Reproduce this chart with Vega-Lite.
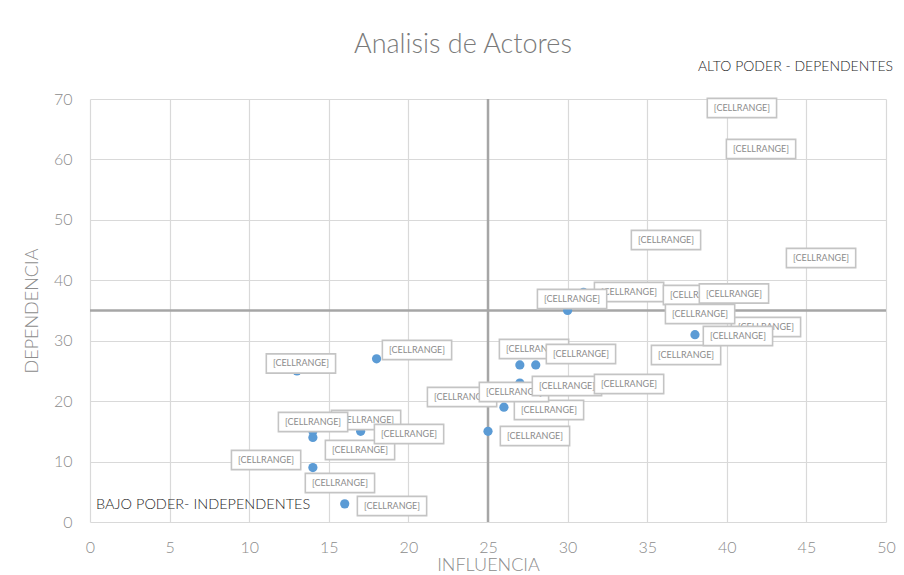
{
  "$schema": "https://vega.github.io/schema/vega-lite/v6.json",
  "width": 796,
  "height": 423,
  "autosize": "none",
  "padding": {"left": 90, "top": 99, "right": 18, "bottom": 53},
  "background": "white",
  "config": {"view": {"stroke": null}, "font": "Lato"},
  "title": {
    "text": "Analisis de Actores",
    "fontSize": 27,
    "fontWeight": 300,
    "color": "#7a7a7a",
    "anchor": "middle",
    "dx": -25,
    "offset": 1
  },
  "datasets": {
    "points": [
      {"influencia": 13, "dependencia": 25},
      {"influencia": 18, "dependencia": 27},
      {"influencia": 14, "dependencia": 15},
      {"influencia": 14, "dependencia": 14},
      {"influencia": 14, "dependencia": 9},
      {"influencia": 16, "dependencia": 3},
      {"influencia": 17, "dependencia": 15},
      {"influencia": 23, "dependencia": 20},
      {"influencia": 25, "dependencia": 15},
      {"influencia": 26, "dependencia": 19},
      {"influencia": 27, "dependencia": 26},
      {"influencia": 28, "dependencia": 26},
      {"influencia": 27, "dependencia": 23},
      {"influencia": 30, "dependencia": 35},
      {"influencia": 31, "dependencia": 38},
      {"influencia": 38, "dependencia": 31}
    ],
    "thresholds": [
      {"influencia": 25, "dependencia": 35}
    ],
    "labels": [
      {"id": 1, "x": 13.25, "y": 26.23, "t": "[CELLRANGE]"},
      {"id": 2, "x": 20.54, "y": 28.46, "t": "[CELLRANGE]"},
      {"id": 3, "x": 23.37, "y": 20.69, "t": "[CELLRANGE]"},
      {"id": 4, "x": 26.63, "y": 21.51, "t": "[CELLRANGE]"},
      {"id": 5, "x": 17.34, "y": 16.88, "t": "[CELLRANGE]"},
      {"id": 6, "x": 14.01, "y": 16.55, "t": "[CELLRANGE]"},
      {"id": 7, "x": 20.04, "y": 14.56, "t": "[CELLRANGE]"},
      {"id": 8, "x": 16.96, "y": 11.91, "t": "[CELLRANGE]"},
      {"id": 9, "x": 11.06, "y": 10.26, "t": "[CELLRANGE]"},
      {"id": 10, "x": 15.7, "y": 6.45, "t": "[CELLRANGE]"},
      {"id": 11, "x": 18.97, "y": 2.65, "t": "[CELLRANGE]"},
      {"id": 12, "x": 40.95, "y": 68.51, "t": "[CELLRANGE]"},
      {"id": 13, "x": 42.15, "y": 61.72, "t": "[CELLRANGE]"},
      {"id": 14, "x": 36.18, "y": 46.67, "t": "[CELLRANGE]"},
      {"id": 15, "x": 45.92, "y": 43.69, "t": "[CELLRANGE]"},
      {"id": 16, "x": 33.86, "y": 38.06, "t": "[CELLRANGE]"},
      {"id": 17, "x": 30.28, "y": 36.9, "t": "[CELLRANGE]"},
      {"id": 18, "x": 38.19, "y": 37.56, "t": "[CELLRANGE]"},
      {"id": 19, "x": 40.45, "y": 37.81, "t": "[CELLRANGE]"},
      {"id": 20, "x": 38.32, "y": 34.42, "t": "[CELLRANGE]"},
      {"id": 21, "x": 42.46, "y": 32.27, "t": "[CELLRANGE]"},
      {"id": 22, "x": 40.7, "y": 30.78, "t": "[CELLRANGE]"},
      {"id": 23, "x": 37.44, "y": 27.64, "t": "[CELLRANGE]"},
      {"id": 24, "x": 27.89, "y": 28.63, "t": "[CELLRANGE]"},
      {"id": 25, "x": 30.84, "y": 27.8, "t": "[CELLRANGE]"},
      {"id": 26, "x": 29.96, "y": 22.51, "t": "[CELLRANGE]"},
      {"id": 27, "x": 33.86, "y": 22.84, "t": "[CELLRANGE]"},
      {"id": 28, "x": 28.83, "y": 18.53, "t": "[CELLRANGE]"},
      {"id": 29, "x": 27.95, "y": 14.23, "t": "[CELLRANGE]"}
    ],
    "notes": [
      {"x": 50.44, "y": 75.3, "t": "ALTO PODER - DEPENDENTES", "side": "right"},
      {"x": 0.38, "y": 2.8, "t": "BAJO PODER- INDEPENDENTES", "side": "left"}
    ]
  },
  "layer": [
    {
      "data": {"name": "points"},
      "mark": {"type": "rule", "opacity": 0},
      "encoding": {
        "x": {
          "field": "influencia",
          "type": "quantitative",
          "scale": {"domain": [0, 50], "nice": false, "zero": false},
          "axis": {
            "title": "INFLUENCIA",
            "values": [0, 5, 10, 15, 20, 25, 30, 35, 40, 45, 50],
            "grid": true,
            "gridColor": "#d9d9d9",
            "gridWidth": 1.2,
            "domain": false,
            "ticks": false,
            "labelFlush": false,
            "labelOverlap": false,
            "labelColor": "#8c8c8c",
            "labelFontSize": 16,
            "labelFontWeight": 300,
            "labelPadding": 17,
            "titleColor": "#8c8c8c",
            "titleFontSize": 18,
            "titleFontWeight": 300,
            "titlePadding": 1
          }
        },
        "y": {
          "field": "dependencia",
          "type": "quantitative",
          "scale": {"domain": [0, 70], "nice": false, "zero": false},
          "axis": {
            "title": "DEPENDENCIA",
            "values": [0, 10, 20, 30, 40, 50, 60, 70],
            "grid": true,
            "gridColor": "#d9d9d9",
            "gridWidth": 1.2,
            "domain": false,
            "ticks": false,
            "labelFlush": false,
            "labelColor": "#8c8c8c",
            "labelFontSize": 16,
            "labelFontWeight": 300,
            "labelPadding": 18,
            "titleColor": "#8c8c8c",
            "titleFontSize": 18,
            "titleFontWeight": 300,
            "titlePadding": 12
          }
        }
      }
    },
    {
      "data": {"name": "thresholds"},
      "mark": {"type": "rule", "color": "#a6a6a6", "strokeWidth": 2.5},
      "encoding": {"x": {"field": "influencia", "type": "quantitative"}}
    },
    {
      "data": {"name": "thresholds"},
      "mark": {"type": "rule", "color": "#a6a6a6", "strokeWidth": 2.5},
      "encoding": {"y": {"field": "dependencia", "type": "quantitative"}}
    },
    {
      "data": {"name": "points"},
      "mark": {"type": "point", "filled": true, "color": "#5b9bd5", "opacity": 1, "size": 85},
      "encoding": {
        "x": {"field": "influencia", "type": "quantitative"},
        "y": {"field": "dependencia", "type": "quantitative"}
      }
    },
    {
      "data": {"name": "labels"},
      "transform": [{"filter": {"not": {"field": "id", "oneOf": [4, 6, 7, 25, 17, 19, 20, 22, 26, 27]}}}],
      "layer": [
        {
          "mark": {"type": "point", "shape": "M-1,-0.278H1V0.278H-1Z", "size": 4800, "filled": true, "fill": "white", "fillOpacity": 1, "stroke": "#c4c4c4", "strokeWidth": 1.6, "opacity": 1},
          "encoding": {"x": {"field": "x", "type": "quantitative"}, "y": {"field": "y", "type": "quantitative"}}
        },
        {
          "mark": {"type": "text", "fontSize": 9, "color": "#8c8c8c", "align": "center", "baseline": "middle"},
          "encoding": {"x": {"field": "x", "type": "quantitative"}, "y": {"field": "y", "type": "quantitative"}, "text": {"field": "t"}}
        }
      ]
    },
    {
      "data": {"name": "labels"},
      "transform": [{"filter": {"field": "id", "oneOf": [4, 6, 7, 25, 17, 19, 20, 22]}}],
      "layer": [
        {
          "mark": {"type": "point", "shape": "M-1,-0.278H1V0.278H-1Z", "size": 4800, "filled": true, "fill": "white", "fillOpacity": 1, "stroke": "#c4c4c4", "strokeWidth": 1.6, "opacity": 1},
          "encoding": {"x": {"field": "x", "type": "quantitative"}, "y": {"field": "y", "type": "quantitative"}}
        },
        {
          "mark": {"type": "text", "fontSize": 9, "color": "#8c8c8c", "align": "center", "baseline": "middle"},
          "encoding": {"x": {"field": "x", "type": "quantitative"}, "y": {"field": "y", "type": "quantitative"}, "text": {"field": "t"}}
        }
      ]
    },
    {
      "data": {"name": "labels"},
      "transform": [{"filter": {"field": "id", "oneOf": [26]}}],
      "layer": [
        {
          "mark": {"type": "point", "shape": "M-1,-0.278H1V0.278H-1Z", "size": 4800, "filled": true, "fill": "white", "fillOpacity": 1, "stroke": "#c4c4c4", "strokeWidth": 1.6, "opacity": 1},
          "encoding": {"x": {"field": "x", "type": "quantitative"}, "y": {"field": "y", "type": "quantitative"}}
        },
        {
          "mark": {"type": "text", "fontSize": 9, "color": "#8c8c8c", "align": "center", "baseline": "middle"},
          "encoding": {"x": {"field": "x", "type": "quantitative"}, "y": {"field": "y", "type": "quantitative"}, "text": {"field": "t"}}
        }
      ]
    },
    {
      "data": {"name": "labels"},
      "transform": [{"filter": {"field": "id", "oneOf": [27]}}],
      "layer": [
        {
          "mark": {"type": "point", "shape": "M-1,-0.278H1V0.278H-1Z", "size": 4800, "filled": true, "fill": "white", "fillOpacity": 1, "stroke": "#c4c4c4", "strokeWidth": 1.6, "opacity": 1},
          "encoding": {"x": {"field": "x", "type": "quantitative"}, "y": {"field": "y", "type": "quantitative"}}
        },
        {
          "mark": {"type": "text", "fontSize": 9, "color": "#8c8c8c", "align": "center", "baseline": "middle"},
          "encoding": {"x": {"field": "x", "type": "quantitative"}, "y": {"field": "y", "type": "quantitative"}, "text": {"field": "t"}}
        }
      ]
    },
    {
      "data": {"name": "notes"},
      "transform": [{"filter": "datum.side == 'right'"}],
      "mark": {"type": "text", "fontSize": 14, "fontWeight": 300, "color": "#262626", "align": "right", "baseline": "middle"},
      "encoding": {"x": {"field": "x", "type": "quantitative"}, "y": {"field": "y", "type": "quantitative"}, "text": {"field": "t"}}
    },
    {
      "data": {"name": "notes"},
      "transform": [{"filter": "datum.side == 'left'"}],
      "mark": {"type": "text", "fontSize": 14.5, "fontWeight": 300, "color": "#262626", "align": "left", "baseline": "middle"},
      "encoding": {"x": {"field": "x", "type": "quantitative"}, "y": {"field": "y", "type": "quantitative"}, "text": {"field": "t"}}
    }
  ]
}
